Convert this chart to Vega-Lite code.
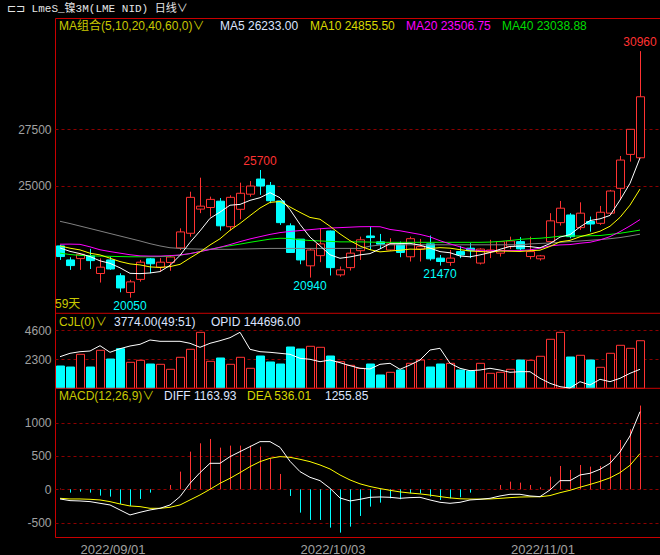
{
"$schema":"https://vega.github.io/schema/vega-lite/v6.json",
"width":605,"height":519,
"autosize":{"type":"none"},
"padding":{"left":55,"top":18,"right":0,"bottom":18},
"background":"#000000",
"title":{"text":"⊏⊐ LmeS_镍3M(LME NID)  日线∨","anchor":"start","frame":"group","dx":-48,"offset":4,"font":"Liberation Mono, Noto Sans CJK SC","fontSize":11,"fontWeight":"normal","color":"#e6e6e6"},
"config":{"view":{"stroke":"#c80000","strokeWidth":1},"text":{"font":"Liberation Sans, Noto Sans CJK SC","fontSize":12}},
"datasets":{"k":[
{"d":"2022/08/25","o":22340,"h":22380,"l":21720,"c":21870,"v":1768,"op":146586,"m5":22250,"m10":22340,"m20":22416,"m40":22020,"m60":23430,"dif":-145,"dea":-135,"m":10},
{"d":"2022/08/26","o":21720,"h":21840,"l":21280,"c":21470,"v":1689,"op":147096,"m5":22100,"m10":22240,"m20":22420,"m40":21960,"m60":23330,"dif":-170,"dea":-145,"m":-50},
{"d":"2022/08/29","o":21780,"h":21990,"l":21280,"c":21970,"v":2696,"op":147336,"m5":22000,"m10":22164,"m20":22410,"m40":21920,"m60":23220,"dif":-175,"dea":-145,"m":-35},
{"d":"2022/08/30","o":21900,"h":22210,"l":21320,"c":21690,"v":1689,"op":147441,"m5":21870,"m10":22018,"m20":22300,"m40":21900,"m60":23110,"dif":-185,"dea":-150,"m":-50},
{"d":"2022/08/31","o":21120,"h":21790,"l":20720,"c":21400,"v":3013,"op":148236,"m5":21680,"m10":21943,"m20":22170,"m40":21890,"m60":23000,"dif":-210,"dea":-160,"m":-95},
{"d":"2022/09/01","o":21720,"h":21860,"l":21280,"c":21320,"v":2323,"op":147246,"m5":21570,"m10":21797,"m20":22090,"m40":21880,"m60":22890,"dif":-235,"dea":-185,"m":-110},
{"d":"2022/09/02","o":21020,"h":21130,"l":20290,"c":20480,"v":3140,"op":147786,"m5":21372,"m10":21647,"m20":22020,"m40":21870,"m60":22780,"dif":-310,"dea":-220,"m":-220},
{"d":"2022/09/05","o":20280,"h":20840,"l":20050,"c":20750,"v":2062,"op":148191,"m5":21128,"m10":21545,"m20":21950,"m40":21860,"m60":22670,"dif":-385,"dea":-250,"m":-250},
{"d":"2022/09/06","o":20860,"h":21720,"l":20760,"c":21620,"v":2220,"op":148446,"m5":21114,"m10":21500,"m20":21900,"m40":21860,"m60":22560,"dif":-345,"dea":-260,"m":-145},
{"d":"2022/09/07","o":21770,"h":21800,"l":21130,"c":21550,"v":1927,"op":149091,"m5":21144,"m10":21412,"m20":21890,"m40":21860,"m60":22440,"dif":-310,"dea":-285,"m":-50},
{"d":"2022/09/08","o":21400,"h":21800,"l":21200,"c":21620,"v":1903,"op":148896,"m5":21204,"m10":21387,"m20":21890,"m40":21870,"m60":22340,"dif":-285,"dea":-285,"m":0},
{"d":"2022/09/09","o":21610,"h":21940,"l":21240,"c":21850,"v":1507,"op":148896,"m5":21478,"m10":21425,"m20":21910,"m40":21890,"m60":22260,"dif":-235,"dea":-270,"m":65},
{"d":"2022/09/12","o":22250,"h":23120,"l":22160,"c":22960,"v":2458,"op":148896,"m5":21920,"m10":21524,"m20":21940,"m40":21930,"m60":22230,"dif":-110,"dea":-235,"m":265},
{"d":"2022/09/13","o":22900,"h":24740,"l":22750,"c":24490,"v":3093,"op":148596,"m5":22494,"m10":21804,"m20":22000,"m40":22000,"m60":22210,"dif":90,"dea":-160,"m":565},
{"d":"2022/09/14","o":23970,"h":25360,"l":23790,"c":24100,"v":4441,"op":147996,"m5":23004,"m10":22074,"m20":22090,"m40":22090,"m60":22200,"dif":250,"dea":-85,"m":690},
{"d":"2022/09/15","o":24040,"h":24520,"l":23640,"c":24400,"v":2141,"op":148596,"m5":23560,"m10":22382,"m20":22180,"m40":22190,"m60":22190,"dif":390,"dea":0,"m":755},
{"d":"2022/09/16","o":24320,"h":24460,"l":23020,"c":23230,"v":2403,"op":148986,"m5":23836,"m10":22657,"m20":22280,"m40":22280,"m60":22190,"dif":390,"dea":90,"m":625},
{"d":"2022/09/19","o":23190,"h":24580,"l":23020,"c":24490,"v":1903,"op":149436,"m5":24142,"m10":23031,"m20":22400,"m40":22350,"m60":22190,"dif":490,"dea":165,"m":655},
{"d":"2022/09/20","o":23960,"h":25140,"l":23520,"c":24670,"v":2458,"op":150246,"m5":24178,"m10":23336,"m20":22530,"m40":22420,"m60":22200,"dif":565,"dea":250,"m":655},
{"d":"2022/09/21","o":24630,"h":25210,"l":24520,"c":24990,"v":1586,"op":147696,"m5":24356,"m10":23680,"m20":22650,"m40":22500,"m60":22210,"dif":640,"dea":340,"m":655},
{"d":"2022/09/22","o":25300,"h":25700,"l":24600,"c":24990,"v":2561,"op":147336,"m5":24474,"m10":24017,"m20":22750,"m40":22570,"m60":22220,"dif":715,"dea":415,"m":640},
{"d":"2022/09/23","o":25020,"h":25170,"l":24230,"c":24340,"v":2086,"op":147246,"m5":24696,"m10":24266,"m20":22850,"m40":22640,"m60":22230,"dif":715,"dea":465,"m":465},
{"d":"2022/09/26","o":24330,"h":24330,"l":23270,"c":23370,"v":1927,"op":147096,"m5":24472,"m10":24307,"m20":22930,"m40":22680,"m60":22230,"dif":630,"dea":490,"m":230},
{"d":"2022/09/27","o":23230,"h":23340,"l":22030,"c":22050,"v":3275,"op":146946,"m5":23948,"m10":24063,"m20":22980,"m40":22670,"m60":22230,"dif":420,"dea":480,"m":-100},
{"d":"2022/09/28","o":22640,"h":22640,"l":21530,"c":21720,"v":3117,"op":146346,"m5":23294,"m10":23825,"m20":23020,"m40":22610,"m60":22230,"dif":265,"dea":450,"m":-350},
{"d":"2022/09/29","o":21460,"h":22240,"l":20940,"c":22160,"v":3331,"op":146196,"m5":22728,"m10":23601,"m20":23060,"m40":22580,"m60":22230,"dif":180,"dea":415,"m":-460},
{"d":"2022/09/30","o":21910,"h":23120,"l":21620,"c":22430,"v":3251,"op":145836,"m5":22346,"m10":23521,"m20":23100,"m40":22560,"m60":22230,"dif":130,"dea":365,"m":-460},
{"d":"2022/10/03","o":23000,"h":23020,"l":21030,"c":21380,"v":2561,"op":146091,"m5":21948,"m10":23210,"m20":23130,"m40":22540,"m60":22230,"dif":15,"dea":305,"m":-575},
{"d":"2022/10/04","o":21060,"h":21430,"l":20980,"c":21280,"v":2109,"op":145686,"m5":21794,"m10":22871,"m20":23150,"m40":22520,"m60":22230,"dif":-130,"dea":215,"m":-650},
{"d":"2022/10/05","o":21380,"h":22240,"l":21250,"c":22020,"v":1824,"op":145236,"m5":21854,"m10":22574,"m20":23170,"m40":22520,"m60":22230,"dif":-175,"dea":140,"m":-560},
{"d":"2022/10/06","o":22130,"h":22750,"l":21720,"c":22610,"v":1586,"op":144846,"m5":21944,"m10":22336,"m20":23190,"m40":22520,"m60":22230,"dif":-150,"dea":82,"m":-400},
{"d":"2022/10/07","o":22780,"h":23190,"l":22160,"c":22710,"v":1927,"op":144741,"m5":22000,"m10":22173,"m20":23194,"m40":22510,"m60":22330,"dif":-120,"dea":42,"m":-260},
{"d":"2022/10/10","o":22520,"h":22870,"l":22200,"c":22420,"v":1055,"op":145446,"m5":22208,"m10":22078,"m20":23190,"m40":22500,"m60":22380,"dif":-115,"dea":11,"m":-200},
{"d":"2022/10/11","o":22160,"h":22680,"l":22120,"c":22430,"v":1269,"op":145596,"m5":22438,"m10":22116,"m20":23070,"m40":22500,"m60":22390,"dif":-120,"dea":-15,"m":-135},
{"d":"2022/10/12","o":22390,"h":22530,"l":21840,"c":22050,"v":1451,"op":144696,"m5":22444,"m10":22149,"m20":23010,"m40":22500,"m60":22390,"dif":-135,"dea":-39,"m":-150},
{"d":"2022/10/13","o":21860,"h":22750,"l":21650,"c":22660,"v":1982,"op":145341,"m5":22454,"m10":22199,"m20":22930,"m40":22500,"m60":22390,"dif":-125,"dea":-56,"m":-60},
{"d":"2022/10/14","o":22200,"h":22650,"l":21650,"c":22310,"v":2244,"op":146091,"m5":22374,"m10":22187,"m20":22850,"m40":22500,"m60":22390,"dif":-120,"dea":-69,"m":-60},
{"d":"2022/10/17","o":22430,"h":22800,"l":21690,"c":21770,"v":1689,"op":147591,"m5":22244,"m10":22226,"m20":22740,"m40":22500,"m60":22390,"dif":-160,"dea":-87,"m":-110},
{"d":"2022/10/18","o":21800,"h":21940,"l":21470,"c":21650,"v":1927,"op":147846,"m5":22088,"m10":22263,"m20":22570,"m40":22500,"m60":22390,"dif":-195,"dea":-109,"m":-160},
{"d":"2022/10/19","o":21610,"h":22160,"l":21460,"c":21800,"v":1982,"op":145596,"m5":22038,"m10":22241,"m20":22430,"m40":22500,"m60":22390,"dif":-210,"dea":-129,"m":-135},
{"d":"2022/10/20","o":22090,"h":22340,"l":21800,"c":21940,"v":1451,"op":144846,"m5":21894,"m10":22174,"m20":22300,"m40":22500,"m60":22390,"dif":-195,"dea":-142,"m":-120},
{"d":"2022/10/21","o":22240,"h":22460,"l":21800,"c":22130,"v":1372,"op":144486,"m5":21858,"m10":22116,"m20":22180,"m40":22500,"m60":22390,"dif":-160,"dea":-146,"m":-50},
{"d":"2022/10/24","o":21580,"h":22240,"l":21520,"c":22200,"v":1982,"op":144591,"m5":21944,"m10":22094,"m20":22130,"m40":22500,"m60":22390,"dif":-150,"dea":-147,"m":-5},
{"d":"2022/10/25","o":22080,"h":22610,"l":21800,"c":22160,"v":1189,"op":144846,"m5":22046,"m10":22067,"m20":22120,"m40":22510,"m60":22390,"dif":-135,"dea":-145,"m":0},
{"d":"2022/10/26","o":22020,"h":22530,"l":21870,"c":22530,"v":1269,"op":144591,"m5":22192,"m10":22115,"m20":22134,"m40":22540,"m60":22390,"dif":-100,"dea":-136,"m":65},
{"d":"2022/10/27","o":22310,"h":22750,"l":22200,"c":22560,"v":1507,"op":144246,"m5":22316,"m10":22105,"m20":22134,"m40":22580,"m60":22390,"dif":-75,"dea":-125,"m":115},
{"d":"2022/10/28","o":22530,"h":22730,"l":22090,"c":22210,"v":2244,"op":144336,"m5":22332,"m10":22095,"m20":22134,"m40":22630,"m60":22390,"dif":-75,"dea":-116,"m":100},
{"d":"2022/10/31","o":21870,"h":22750,"l":21750,"c":22090,"v":2220,"op":144336,"m5":22310,"m10":22127,"m20":22164,"m40":22660,"m60":22430,"dif":-100,"dea":-113,"m":65},
{"d":"2022/11/01","o":21770,"h":21940,"l":21690,"c":21900,"v":2538,"op":143346,"m5":22258,"m10":22152,"m20":22240,"m40":22680,"m60":22450,"dif":-110,"dea":-112,"m":30},
{"d":"2022/11/02","o":22530,"h":23790,"l":22490,"c":23450,"v":3886,"op":142596,"m5":22442,"m10":22317,"m20":22341,"m40":22720,"m60":22470,"dif":-10,"dea":-94,"m":190},
{"d":"2022/11/03","o":23370,"h":24330,"l":23240,"c":24010,"v":4441,"op":142086,"m5":22732,"m10":22524,"m20":22385,"m40":22770,"m60":22500,"dif":130,"dea":-51,"m":350},
{"d":"2022/11/04","o":23710,"h":23790,"l":22680,"c":22750,"v":2482,"op":141891,"m5":22840,"m10":22586,"m20":22400,"m40":22780,"m60":22530,"dif":130,"dea":-15,"m":290},
{"d":"2022/11/07","o":23150,"h":24270,"l":23050,"c":23790,"v":2617,"op":142836,"m5":23180,"m10":22745,"m20":22459,"m40":22780,"m60":22560,"dif":215,"dea":31,"m":365},
{"d":"2022/11/08","o":23420,"h":23640,"l":22970,"c":23310,"v":2244,"op":142341,"m5":23462,"m10":22860,"m20":22502,"m40":22790,"m60":22590,"dif":240,"dea":73,"m":340},
{"d":"2022/11/09","o":23340,"h":24110,"l":23270,"c":23830,"v":1665,"op":143196,"m5":23538,"m10":22990,"m20":22606,"m40":22800,"m60":22620,"dif":300,"dea":118,"m":350},
{"d":"2022/11/10","o":23790,"h":24820,"l":23710,"c":24770,"v":2776,"op":142836,"m5":23690,"m10":23211,"m20":22752,"m40":22850,"m60":22660,"dif":390,"dea":172,"m":520},
{"d":"2022/11/11","o":24890,"h":26320,"l":24370,"c":26140,"v":3410,"op":143346,"m5":24368,"m10":23604,"m20":22973,"m40":22900,"m60":22710,"dif":560,"dea":250,"m":740},
{"d":"2022/11/14","o":26390,"h":27510,"l":26070,"c":27500,"v":3172,"op":144096,"m5":25110,"m10":24145,"m20":23225,"m40":22970,"m60":22780,"dif":800,"dea":360,"m":900},
{"d":"2022/11/15","o":26240,"h":30960,"l":26240,"c":28940,"v":3774,"op":144696,"m5":26233,"m10":24855.5,"m20":23506.75,"m40":23038.88,"m60":22860,"dif":1163.93,"dea":536.01,"m":1255.85}
]},
"data":{"name":"k"},
"layer":[
{"layer":[
 {"mark":{"type":"rule","strokeWidth":1,"xOffset":0.5},
  "encoding":{
   "x":{"field":"d","type":"ordinal","scale":{"type":"band","paddingInner":0,"paddingOuter":0.75,"align":0},
        "axis":{"values":["2022/09/01","2022/10/03","2022/11/01"],"title":null,"ticks":false,"domain":false,"grid":false,"labelAngle":0,"labelColor":"#a0a0a0","labelFont":"Liberation Sans","labelFontSize":13,"labelPadding":6,"labelOffset":3}},
   "y":{"field":"h","type":"quantitative","scale":{"domain":[9460,32426],"zero":false,"nice":false},
        "axis":{"orient":"left","values":[25000,27500],"title":null,"grid":true,"gridColor":"#8c0000","gridDash":[3,3],"domain":false,"ticks":false,"labelColor":"#a0a0a0","labelFont":"Liberation Sans","labelFontSize":12,"labelPadding":4,"labelExpr":"'' + datum.value"}},
   "y2":{"field":"l"},
   "color":{"condition":{"test":"datum.c >= datum.o","value":"#ff3232"},"value":"#00ffff"}}},
 {"mark":{"type":"bar","size":8,"strokeWidth":1,"xOffset":0.5},
  "encoding":{
   "x":{"field":"d","type":"ordinal"},
   "y":{"field":"o","type":"quantitative","scale":{"domain":[9460,32426],"zero":false,"nice":false}},
   "y2":{"field":"c"},
   "fill":{"condition":{"test":"datum.c >= datum.o","value":"#000000"},"value":"#00ffff"},
   "stroke":{"condition":{"test":"datum.c >= datum.o","value":"#ff3232"},"value":"#00ffff"}}},
 {"mark":{"type":"line","strokeWidth":1,"color":"#808080"},
  "encoding":{"x":{"field":"d","type":"ordinal"},"y":{"field":"m60","type":"quantitative","scale":{"domain":[9460,32426],"zero":false,"nice":false}}}},
 {"mark":{"type":"line","strokeWidth":1,"color":"#00ff00"},
  "encoding":{"x":{"field":"d","type":"ordinal"},"y":{"field":"m40","type":"quantitative","scale":{"domain":[9460,32426],"zero":false,"nice":false}}}},
 {"mark":{"type":"line","strokeWidth":1,"color":"#ff00ff"},
  "encoding":{"x":{"field":"d","type":"ordinal"},"y":{"field":"m20","type":"quantitative","scale":{"domain":[9460,32426],"zero":false,"nice":false}}}},
 {"mark":{"type":"line","strokeWidth":1,"color":"#ffff00"},
  "encoding":{"x":{"field":"d","type":"ordinal"},"y":{"field":"m10","type":"quantitative","scale":{"domain":[9460,32426],"zero":false,"nice":false}}}},
 {"mark":{"type":"line","strokeWidth":1,"color":"#ffffff"},
  "encoding":{"x":{"field":"d","type":"ordinal"},"y":{"field":"m5","type":"quantitative","scale":{"domain":[9460,32426],"zero":false,"nice":false}}}},
 {"data":{"values":[{"d":"2022/11/15","v":30960},{"d":"2022/09/22","v":25700}]},
  "mark":{"type":"text","baseline":"bottom","align":"center","dy":-2,"color":"#ff3232","fontSize":12},
  "encoding":{"x":{"field":"d","type":"ordinal"},"y":{"field":"v","type":"quantitative","scale":{"domain":[9460,32426],"zero":false,"nice":false}},"text":{"field":"v","type":"quantitative","format":"d"}}},
 {"data":{"values":[{"d":"2022/09/29","v":20940},{"d":"2022/10/18","v":21470},{"d":"2022/09/05","v":20050}]},
  "mark":{"type":"text","baseline":"top","align":"center","dy":3,"color":"#00ffff","fontSize":12},
  "encoding":{"x":{"field":"d","type":"ordinal"},"y":{"field":"v","type":"quantitative","scale":{"domain":[9460,32426],"zero":false,"nice":false}},"text":{"field":"v","type":"quantitative","format":"d"}}},
 {"data":{"values":[{"t":"59天"}]},
  "mark":{"type":"text","baseline":"middle","align":"left","dx":-5,"color":"#c8c800"},
  "encoding":{"x":{"datum":"2022/08/25","type":"ordinal"},"y":{"datum":19770,"type":"quantitative","scale":{"domain":[9460,32426],"zero":false,"nice":false}},"text":{"field":"t"}}},
 {"data":{"values":[{"t":"MA组合(5,10,20,40,60,0)∨"}]},
  "mark":{"type":"text","baseline":"middle","align":"left","dx":-1,"color":"#c8c800"},
  "encoding":{"x":{"datum":"2022/08/25","type":"ordinal"},"y":{"datum":32072,"type":"quantitative","scale":{"domain":[9460,32426],"zero":false,"nice":false}},"text":{"field":"t"}}},
 {"data":{"values":[{"t":"MA5 26233.00"}]},
  "mark":{"type":"text","baseline":"middle","align":"left","dx":0,"color":"#dce4ff"},
  "encoding":{"x":{"datum":"2022/09/16","type":"ordinal"},"y":{"datum":32072,"type":"quantitative","scale":{"domain":[9460,32426],"zero":false,"nice":false}},"text":{"field":"t"}}},
 {"data":{"values":[{"t":"MA10 24855.50"}]},
  "mark":{"type":"text","baseline":"middle","align":"left","dx":0,"color":"#d8d800"},
  "encoding":{"x":{"datum":"2022/09/29","type":"ordinal"},"y":{"datum":32072,"type":"quantitative","scale":{"domain":[9460,32426],"zero":false,"nice":false}},"text":{"field":"t"}}},
 {"data":{"values":[{"t":"MA20 23506.75"}]},
  "mark":{"type":"text","baseline":"middle","align":"left","dx":-4,"color":"#ff00ff"},
  "encoding":{"x":{"datum":"2022/10/13","type":"ordinal"},"y":{"datum":32072,"type":"quantitative","scale":{"domain":[9460,32426],"zero":false,"nice":false}},"text":{"field":"t"}}},
 {"data":{"values":[{"t":"MA40 23038.88"}]},
  "mark":{"type":"text","baseline":"middle","align":"left","dx":2,"color":"#00dc00"},
  "encoding":{"x":{"datum":"2022/10/26","type":"ordinal"},"y":{"datum":32072,"type":"quantitative","scale":{"domain":[9460,32426],"zero":false,"nice":false}},"text":{"field":"t"}}}
]},
{"layer":[
 {"mark":{"type":"bar","size":8,"strokeWidth":1,"xOffset":0.5},
  "encoding":{
   "x":{"field":"d","type":"ordinal"},
   "y":{"field":"v","type":"quantitative","scale":{"domain":[-11792,29365],"zero":false,"nice":false},
        "axis":{"orient":"left","values":[2300,4600],"title":null,"grid":true,"gridColor":"#8c0000","gridDash":[3,3],"domain":false,"ticks":false,"labelColor":"#a0a0a0","labelFont":"Liberation Sans","labelFontSize":12,"labelPadding":4,"labelExpr":"'' + datum.value"}},
   "y2":{"datum":0},
   "fill":{"condition":{"test":"datum.c >= datum.o","value":"#000000"},"value":"#00ffff"},
   "stroke":{"condition":{"test":"datum.c >= datum.o","value":"#ff3232"},"value":"#00ffff"}}},
 {"data":{"values":[{"y":5948},{"y":0}]},
  "mark":{"type":"rule","color":"#c80000","strokeWidth":1},
  "encoding":{"y":{"field":"y","type":"quantitative","scale":{"domain":[-11792,29365],"zero":false,"nice":false}}}},
 {"data":{"values":[{"t":"CJL(0)∨"}]},
  "mark":{"type":"text","baseline":"middle","align":"left","dx":-1,"color":"#c8c800"},
  "encoding":{"x":{"datum":"2022/08/25","type":"ordinal"},"y":{"datum":5297,"type":"quantitative","scale":{"domain":[-11792,29365],"zero":false,"nice":false}},"text":{"field":"t"}}},
 {"data":{"values":[{"t":"3774.00(49:51)"}]},
  "mark":{"type":"text","baseline":"middle","align":"left","dx":4,"color":"#dce4ff"},
  "encoding":{"x":{"datum":"2022/09/01","type":"ordinal"},"y":{"datum":5297,"type":"quantitative","scale":{"domain":[-11792,29365],"zero":false,"nice":false}},"text":{"field":"t"}}},
 {"data":{"values":[{"t":"OPID 144696.00"}]},
  "mark":{"type":"text","baseline":"middle","align":"left","dx":1,"color":"#dce4ff"},
  "encoding":{"x":{"datum":"2022/09/15","type":"ordinal"},"y":{"datum":5297,"type":"quantitative","scale":{"domain":[-11792,29365],"zero":false,"nice":false}},"text":{"field":"t"}}}
]},
{"layer":[
 {"mark":{"type":"line","strokeWidth":1,"color":"#ffffff"},
  "encoding":{"x":{"field":"d","type":"ordinal"},"y":{"field":"op","type":"quantitative","scale":{"domain":[119541,197391],"zero":false,"nice":false},"axis":null}}}
]},
{"layer":[
 {"mark":{"type":"rule","strokeWidth":1,"xOffset":0.5},
  "encoding":{
   "x":{"field":"d","type":"ordinal"},
   "y":{"field":"m","type":"quantitative","scale":{"domain":[-715.5,7069.5],"zero":false,"nice":false},
        "axis":{"orient":"left","values":[-500,0,500,1000],"title":null,"grid":true,"gridColor":"#8c0000","gridDash":[3,3],"domain":false,"ticks":false,"labelColor":"#a0a0a0","labelFont":"Liberation Sans","labelFontSize":12,"labelPadding":4,"labelExpr":"'' + datum.value"}},
   "y2":{"datum":0},
   "color":{"condition":{"test":"datum.m >= 0","value":"#ff3232"},"value":"#00ffff"}}},
 {"mark":{"type":"line","strokeWidth":1,"color":"#ffff00"},
  "encoding":{"x":{"field":"d","type":"ordinal"},"y":{"field":"dea","type":"quantitative","scale":{"domain":[-715.5,7069.5],"zero":false,"nice":false}}}},
 {"mark":{"type":"line","strokeWidth":1,"color":"#ffffff"},
  "encoding":{"x":{"field":"d","type":"ordinal"},"y":{"field":"dif","type":"quantitative","scale":{"domain":[-715.5,7069.5],"zero":false,"nice":false}}}},
 {"data":{"values":[{"t":"MACD(12,26,9)∨"}]},
  "mark":{"type":"text","baseline":"middle","align":"left","dx":-1,"color":"#c8c800"},
  "encoding":{"x":{"datum":"2022/08/25","type":"ordinal"},"y":{"datum":1407,"type":"quantitative","scale":{"domain":[-715.5,7069.5],"zero":false,"nice":false}},"text":{"field":"t"}}},
 {"data":{"values":[{"t":"DIFF 1163.93"}]},
  "mark":{"type":"text","baseline":"middle","align":"left","dx":4,"color":"#dce4ff"},
  "encoding":{"x":{"datum":"2022/09/08","type":"ordinal"},"y":{"datum":1407,"type":"quantitative","scale":{"domain":[-715.5,7069.5],"zero":false,"nice":false}},"text":{"field":"t"}}},
 {"data":{"values":[{"t":"DEA 536.01"}]},
  "mark":{"type":"text","baseline":"middle","align":"left","dx":-3,"color":"#d8d800"},
  "encoding":{"x":{"datum":"2022/09/21","type":"ordinal"},"y":{"datum":1407,"type":"quantitative","scale":{"domain":[-715.5,7069.5],"zero":false,"nice":false}},"text":{"field":"t"}}},
 {"data":{"values":[{"t":"1255.85"}]},
  "mark":{"type":"text","baseline":"middle","align":"left","dx":5,"color":"#dce4ff"},
  "encoding":{"x":{"datum":"2022/09/30","type":"ordinal"},"y":{"datum":1407,"type":"quantitative","scale":{"domain":[-715.5,7069.5],"zero":false,"nice":false}},"text":{"field":"t"}}}
]}
],
"resolve":{"scale":{"y":"independent"},"axis":{"y":"independent"}}
}
